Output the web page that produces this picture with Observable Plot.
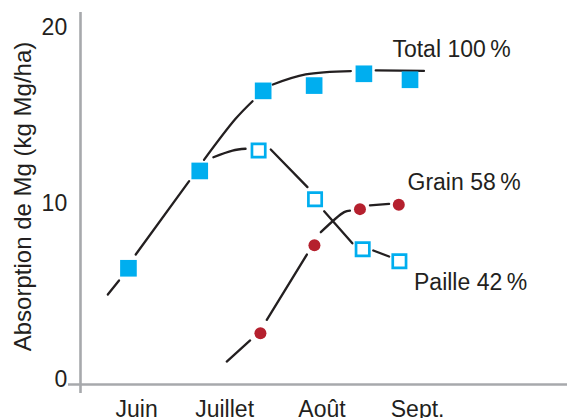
<!DOCTYPE html>
<html>
<head>
<meta charset="utf-8">
<script src="https://cdn.jsdelivr.net/npm/d3@7"></script>
<script src="https://cdn.jsdelivr.net/npm/@observablehq/plot@0.6"></script>
<style>
  html, body { margin: 0; padding: 0; background: #fff; }
  #chart svg { display: block; }
</style>
</head>
<body>
<div id="chart"></div>
<script>
// ---- Data (x: days since 1 June, approx.; y: kg Mg/ha) ----
const monthTicks = [15, 44, 76.1, 107.6];
const monthLabels = ["Juin", "Juillet", "Août", "Sept."];
const yTicks = [0, 10, 20];
const yLabel = "Absorption de Mg (kg Mg/ha)";

const totalDays   = [12.3, 35.8, 56.7, 73.5, 89.9, 105.1];
const totalValues = [6.32, 11.85, 16.40, 16.70, 17.37, 17.03];

const pailleDays   = [55.2, 73.8, 89.5, 101.6];
const pailleValues = [13.01, 10.24, 7.40, 6.72];

const grainDays   = [55.8, 73.6, 88.6, 101.4];
const grainValues = [2.63, 7.63, 9.68, 9.93];

// fitted trend curves (drawn in pieces, interrupted at the markers)
const totalCurve = [
  [[5.5, 4.83], [9.2, 5.63]],
  [[14.7, 7.10], [32.3, 11.27]],
  [[37.2, 12.48], [47.6, 14.81], [53.2, 15.81]],
  [[59.9, 16.76], [70.7, 17.33], [85.6, 17.52]],
  [[93.8, 17.56], [109.7, 17.53]]
];
const pailleCurve = [
  [[40.3, 12.63], [46.6, 13.01], [50.9, 13.11]],
  [[59.2, 13.07], [71.3, 10.93]],
  [[76.8, 9.56], [86.1, 7.74]],
  [[93.0, 7.33], [98.2, 6.99]]
];
const grainCurve = [
  [[44.7, 1.02], [52.4, 2.22]],
  [[57.9, 3.39], [71.1, 7.10]],
  [[75.7, 8.37], [83.4, 9.51], [85.3, 9.60]],
  [[91.9, 9.89], [98.2, 9.98]]
];

const seriesLabels = ["Total 100\u2009%", "Grain 58\u2009%", "Paille 42\u2009%"];

// ---- Build tables ----
const pts = (xs, ys) => xs.map((x, i) => ({x, y: ys[i]}));
const segRows = (name, segs) => segs.flatMap((s, k) => s.map(([x, y]) => ({x, y, z: name + k})));

const total = pts(totalDays, totalValues);
const paille = pts(pailleDays, pailleValues);
const grain = pts(grainDays, grainValues);
const curves = [
  ...segRows("t", totalCurve),
  ...segRows("p", pailleCurve),
  ...segRows("g", grainCurve)
];

const BLUE = "#00aeef", RED = "#b5202e", INK = "#231f20", AXIS = "#a7a9ac";
const FONT = "Liberation Sans, Arial, Helvetica, sans-serif";
const FS = 23;

const chart = Plot.plot({
  width: 567,
  height: 418,
  marginLeft: 80,
  marginRight: 0,
  marginTop: 27,
  marginBottom: 39,
  style: {fontFamily: FONT, fontSize: FS + "px", color: INK, background: "#fff"},
  x: {domain: [-3.5, 157], ticks: monthTicks, tickFormat: (d, i) => monthLabels[i], tickSize: 0, tickPadding: 21.5, label: null},
  y: {domain: [0, 20], ticks: yTicks, tickSize: 0, tickPadding: 13.3, label: null},
  marks: [
    Plot.ruleX([-3.5], {stroke: AXIS, strokeWidth: 2.6, insetTop: -15, insetBottom: -14}),
    Plot.ruleY([0], {stroke: AXIS, strokeWidth: 2.6, dy: 5, insetLeft: -12}),
    Plot.text([yLabel], {frameAnchor: "left", text: d => d, rotate: -90, textAnchor: "middle", dx: -57.5, dy: -7, fontSize: 24, fill: INK}),
    Plot.line(curves, {x: "x", y: "y", z: "z", stroke: INK, strokeWidth: 2.3, curve: "catmull-rom"}),
    Plot.dot(total, {x: "x", y: "y", symbol: "square", r: 9.4, fill: BLUE, stroke: null}),
    Plot.dot(paille, {x: "x", y: "y", symbol: "square", r: 7.5, fill: "#fff", stroke: BLUE, strokeWidth: 2.7}),
    Plot.dot(grain, {x: "x", y: "y", r: 6, fill: RED, stroke: null}),
    Plot.text([total[total.length - 1]], {x: "x", y: "y", text: () => seriesLabels[0], textAnchor: "start", dx: -17.6, dy: -29.9, fontSize: FS, fill: INK}),
    Plot.text([grain[grain.length - 1]], {x: "x", y: "y", text: () => seriesLabels[1], textAnchor: "start", dx: 8.7, dy: -22.3, fontSize: FS, fill: INK}),
    Plot.text([paille[paille.length - 1]], {x: "x", y: "y", text: () => seriesLabels[2], textAnchor: "start", dx: 14.6, dy: 21.2, fontSize: FS, fill: INK})
  ]
});
document.getElementById("chart").appendChild(chart);
</script>
</body>
</html>
